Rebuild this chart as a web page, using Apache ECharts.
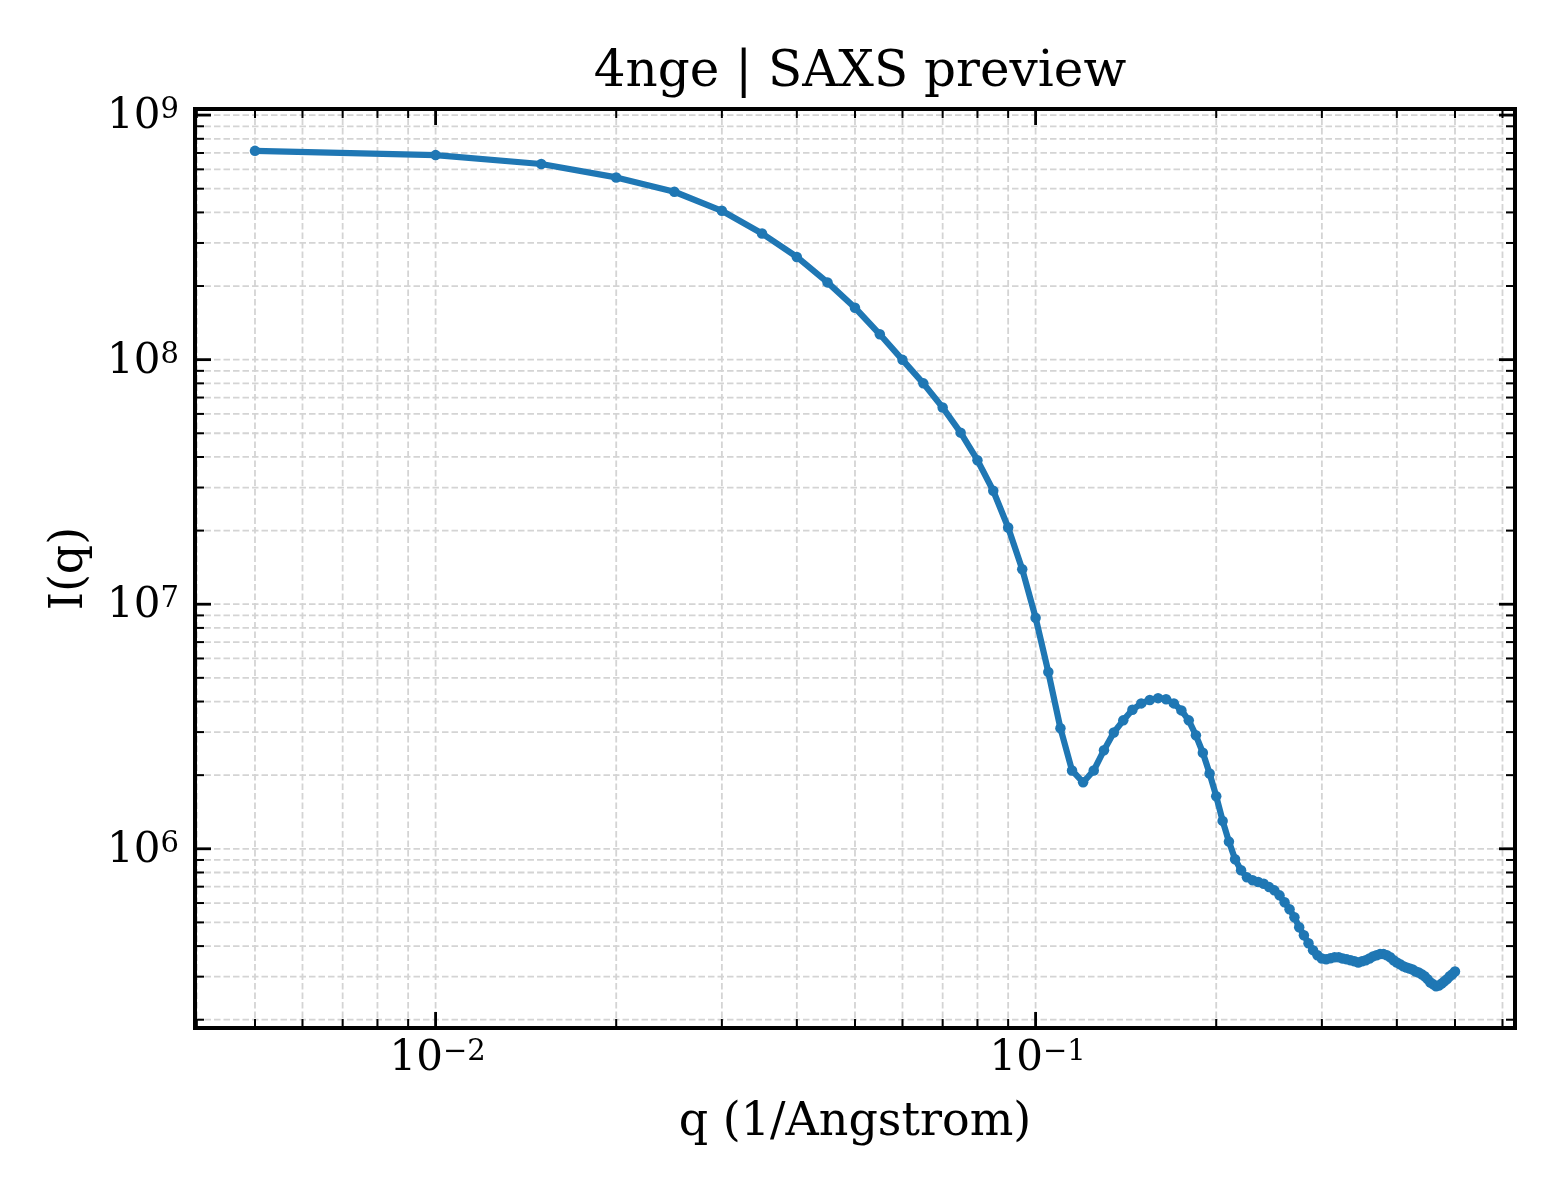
<!DOCTYPE html>
<html>
<head>
<meta charset="utf-8">
<title>4nge | SAXS preview</title>
<script src="https://cdn.jsdelivr.net/npm/echarts@6/dist/echarts.min.js"></script>
<style>
    html, body { margin: 0; padding: 0; background: #ffffff; }
    #chart { width: 1560px; height: 1200px; }
</style>
</head>
<body>
<div id="chart"></div>
<script>
// q (1/Angstrom)
var qValues = [
    0.005, 0.010, 0.015, 0.020, 0.025, 0.030, 0.035, 0.040, 0.045, 0.050,
    0.055, 0.060, 0.065, 0.070, 0.075, 0.080, 0.085, 0.090, 0.095, 0.100,
    0.105, 0.110, 0.115, 0.120, 0.125, 0.130, 0.135, 0.140, 0.145, 0.150,
    0.155, 0.160, 0.165, 0.170, 0.175, 0.180, 0.185, 0.190, 0.195, 0.200,
    0.205, 0.210, 0.215, 0.220, 0.225, 0.230, 0.235, 0.240, 0.245, 0.250,
    0.255, 0.260, 0.265, 0.270, 0.275, 0.280, 0.285, 0.290, 0.295, 0.300,
    0.305, 0.310, 0.315, 0.320, 0.325, 0.330, 0.335, 0.340, 0.345, 0.350,
    0.355, 0.360, 0.365, 0.370, 0.375, 0.380, 0.385, 0.390, 0.395, 0.400,
    0.405, 0.410, 0.415, 0.420, 0.425, 0.430, 0.435, 0.440, 0.445, 0.450,
    0.455, 0.460, 0.465, 0.470, 0.475, 0.480, 0.485, 0.490, 0.495, 0.500
];

// I(q)
var intensity = [
    7.14e8, 6.86e8, 6.31e8, 5.56e8, 4.86e8, 4.06e8, 3.28e8, 2.63e8, 2.07e8, 1.63e8,
    1.27e8, 9.98e7, 8.00e7, 6.37e7, 5.03e7, 3.88e7, 2.91e7, 2.06e7, 1.39e7, 8.81e6,
    5.28e6, 3.11e6, 2.09e6, 1.87e6, 2.09e6, 2.53e6, 2.99e6, 3.35e6, 3.70e6, 3.93e6,
    4.06e6, 4.13e6, 4.09e6, 3.93e6, 3.68e6, 3.35e6, 2.91e6, 2.47e6, 2.03e6, 1.64e6,
    1.30e6, 1.07e6, 9.06e5, 8.17e5, 7.64e5, 7.43e5, 7.31e5, 7.19e5, 6.97e5, 6.76e5,
    6.45e5, 6.04e5, 5.66e5, 5.25e5, 4.78e5, 4.43e5, 4.11e5, 3.85e5, 3.67e5, 3.56e5,
    3.53e5, 3.57e5, 3.60e5, 3.60e5, 3.56e5, 3.53e5, 3.50e5, 3.47e5, 3.43e5, 3.47e5,
    3.50e5, 3.56e5, 3.63e5, 3.67e5, 3.71e5, 3.71e5, 3.67e5, 3.60e5, 3.50e5, 3.43e5,
    3.37e5, 3.31e5, 3.27e5, 3.24e5, 3.21e5, 3.15e5, 3.12e5, 3.07e5, 3.01e5, 2.93e5,
    2.84e5, 2.79e5, 2.74e5, 2.76e5, 2.81e5, 2.87e5, 2.93e5, 3.01e5, 3.07e5, 3.15e5
];

// axis ranges and tick exponents
var xRange = [0.003972, 0.6295];
var yRange = [1.85e5, 1.059e9];
var xTickExp = [-2, -1];
var yTickExp = [6, 7, 8, 9];
var minorSubs = [2, 3, 4, 5, 6, 7, 8, 9];

var fontFamily = 'DejaVu Serif';
var lineColor = '#1f77b4';
var gridColor = '#d4d4d4';

/**
 * 主刻度 + 次刻度 (log 10)
 * */
function buildTicks(range) {
    var major = [], minor = [];
    var lo = Math.floor(Math.log(range[0]) / Math.LN10);
    var hi = Math.ceil(Math.log(range[1]) / Math.LN10);
    for (var e = lo; e <= hi; e++) {
        var base = Math.pow(10, e);
        if (base >= range[0] && base <= range[1]) {
            major.push(base);
        }
        for (var i = 0; i < minorSubs.length; i++) {
            var v = minorSubs[i] * base;
            if (v >= range[0] && v <= range[1]) {
                minor.push(v);
            }
        }
    }
    return {major: major, minor: minor};
}

var xTicks = buildTicks(xRange);
var yTicks = buildTicks(yRange);

var seriesData = [];
for (var i = 0; i < qValues.length; i++) {
    seriesData.push([qValues[i], intensity[i]]);
}

function frameBox(api) {
    var tl = api.coord([xRange[0], yRange[1]]);
    var br = api.coord([xRange[1], yRange[0]]);
    return {left: tl[0], top: tl[1], right: br[0], bottom: br[1]};
}

function seg(x1, y1, x2, y2, style) {
    return {type: 'line', shape: {x1: x1, y1: y1, x2: x2, y2: y2}, style: style};
}

/**
 * 网格虚线
 * */
function renderGridLines(params, api) {
    var box = frameBox(api);
    var style = {stroke: gridColor, lineWidth: 1.8, lineDash: [6.5, 3]};
    var kids = [];
    xTicks.major.concat(xTicks.minor).forEach(function (v) {
        var x = api.coord([v, yRange[0]])[0];
        kids.push(seg(x, box.top, x, box.bottom, style));
    });
    yTicks.major.concat(yTicks.minor).forEach(function (v) {
        var y = api.coord([xRange[0], v])[1];
        kids.push(seg(box.left, y, box.right, y, style));
    });
    return {type: 'group', children: kids};
}

function expLabel(e) {
    return '{b|10}{s|' + (e < 0 ? '\u2212' + (-e) : e) + '}';
}

var labelRich = {
    b: {fontFamily: fontFamily, fontSize: 42, color: '#000', verticalAlign: 'bottom'},
    s: {fontFamily: fontFamily, fontSize: 29, color: '#000', verticalAlign: 'top'}
};

/**
 * 刻度(四边朝内)、刻度标签、边框
 * */
function renderAxesFrame(params, api) {
    var box = frameBox(api);
    var majorLen = 16, minorLen = 9;
    var majorStyle = {stroke: '#000', lineWidth: 2.8};
    var minorStyle = {stroke: '#000', lineWidth: 2};
    var kids = [];

    xTicks.minor.forEach(function (v) {
        var x = api.coord([v, yRange[0]])[0];
        kids.push(seg(x, box.bottom, x, box.bottom - minorLen, minorStyle));
        kids.push(seg(x, box.top, x, box.top + minorLen, minorStyle));
    });
    xTicks.major.forEach(function (v) {
        var x = api.coord([v, yRange[0]])[0];
        kids.push(seg(x, box.bottom, x, box.bottom - majorLen, majorStyle));
        kids.push(seg(x, box.top, x, box.top + majorLen, majorStyle));
    });
    yTicks.minor.forEach(function (v) {
        var y = api.coord([xRange[0], v])[1];
        kids.push(seg(box.left, y, box.left + minorLen, y, minorStyle));
        kids.push(seg(box.right, y, box.right - minorLen, y, minorStyle));
    });
    yTicks.major.forEach(function (v) {
        var y = api.coord([xRange[0], v])[1];
        kids.push(seg(box.left, y, box.left + majorLen, y, majorStyle));
        kids.push(seg(box.right, y, box.right - majorLen, y, majorStyle));
    });

    xTickExp.forEach(function (e) {
        var x = api.coord([Math.pow(10, e), yRange[0]])[0];
        kids.push({
            type: 'text',
            x: x + 2,
            y: box.bottom + 31,
            style: {text: expLabel(e), rich: labelRich, align: 'center', verticalAlign: 'middle'}
        });
    });
    yTickExp.forEach(function (e) {
        var y = api.coord([xRange[0], Math.pow(10, e)])[1];
        kids.push({
            type: 'text',
            x: box.left - 16,
            y: y + 2,
            style: {text: expLabel(e), rich: labelRich, align: 'right', verticalAlign: 'middle'}
        });
    });

    kids.push({
        type: 'rect',
        shape: {x: box.left, y: box.top, width: box.right - box.left, height: box.bottom - box.top},
        style: {fill: 'transparent', stroke: '#000', lineWidth: 4}
    });
    return {type: 'group', children: kids};
}

var chart = echarts.init(document.getElementById('chart'), null, {renderer: 'canvas'});

var option = {
    backgroundColor: '#ffffff',
    animation: false,
    title: {
        text: '4nge | SAXS preview',
        left: 855,
        top: 43,
        textAlign: 'center',
        textStyle: {fontFamily: fontFamily, fontSize: 50, fontWeight: 'normal', color: '#000'}
    },
    grid: {left: 195, right: 45, top: 109, bottom: 172},
    xAxis: {
        type: 'log',
        logBase: 10,
        min: xRange[0],
        max: xRange[1],
        name: 'q (1/Angstrom)',
        nameLocation: 'middle',
        nameGap: 72,
        nameTextStyle: {fontFamily: fontFamily, fontSize: 46, color: '#000'},
        axisLine: {show: false},
        axisTick: {show: false},
        axisLabel: {show: false},
        splitLine: {show: false}
    },
    yAxis: {
        type: 'log',
        logBase: 10,
        min: yRange[0],
        max: yRange[1],
        name: 'I(q)',
        nameLocation: 'middle',
        nameGap: 102,
        nameTextStyle: {fontFamily: fontFamily, fontSize: 46, color: '#000'},
        axisLine: {show: false},
        axisTick: {show: false},
        axisLabel: {show: false},
        splitLine: {show: false}
    },
    series: [
        {
            type: 'custom',
            z: 1,
            silent: true,
            renderItem: renderGridLines,
            data: [[xRange[0], yRange[0]]]
        },
        {
            type: 'line',
            z: 2,
            data: seriesData,
            symbol: 'circle',
            symbolSize: 10.5,
            showSymbol: true,
            showAllSymbol: true,
            lineStyle: {color: lineColor, width: 6.25},
            itemStyle: {color: lineColor, borderWidth: 0}
        },
        {
            type: 'custom',
            z: 3,
            silent: true,
            renderItem: renderAxesFrame,
            data: [[xRange[0], yRange[0]]]
        }
    ]
};

chart.setOption(option);
</script>
</body>
</html>
